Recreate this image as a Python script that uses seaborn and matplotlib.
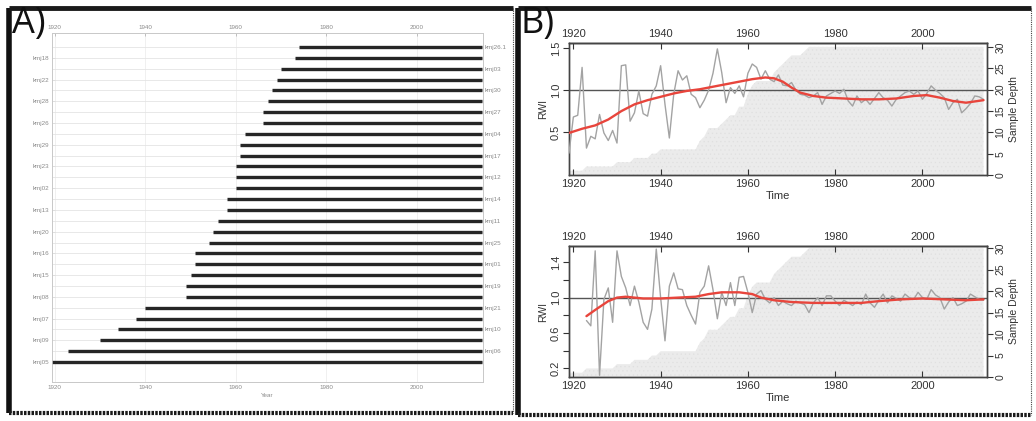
import numpy as np
import pandas as pd
import matplotlib
matplotlib.use("Agg")
import matplotlib.pyplot as plt
from matplotlib.lines import Line2D
import seaborn as sns

# Panel A: series names (top to bottom) and first year of each
series_names = ["kmj26.1", "kmj18", "kmj03", "kmj22", "kmj30", "kmj28", "kmj27", "kmj26",
                "kmj04", "kmj29", "kmj17", "kmj23", "kmj12", "kmj02", "kmj14", "kmj13",
                "kmj11", "kmj20", "kmj25", "kmj16", "kmj01", "kmj15", "kmj19", "kmj08",
                "kmj21", "kmj07", "kmj10", "kmj09", "kmj06", "kmj05"]
start_years = [1974, 1973, 1970, 1969, 1968, 1967, 1966, 1966, 1962, 1961, 1961, 1960,
               1960, 1960, 1958, 1958, 1956, 1955, 1954, 1951, 1951, 1950, 1949, 1949,
               1940, 1938, 1934, 1930, 1923, 1919]
end_year = 2014

# Panel B top: chronology 1
years_top = list(range(1919, 2015))
rwi_top = [0.25, 0.68, 0.70, 1.27, 0.31, 0.45, 0.42, 0.71, 0.49, 0.40,
           0.52, 0.37, 1.29, 1.30, 0.63, 0.73, 0.99, 0.72, 0.69, 0.95,
           1.05, 1.29, 0.83, 0.43, 0.95, 1.23, 1.12, 1.17, 0.95, 0.91,
           0.79, 0.88, 1.00, 1.20, 1.49, 1.21, 0.85, 1.03, 0.96, 1.05,
           0.92, 1.20, 1.31, 1.27, 1.13, 1.23, 1.13, 1.10, 1.18, 1.06,
           1.05, 1.09, 1.00, 0.95, 0.94, 0.91, 0.93, 0.97, 0.83, 0.93,
           0.96, 0.99, 0.96, 1.01, 0.87, 0.81, 0.93, 0.85, 0.89, 0.83,
           0.90, 0.97, 0.91, 0.88, 0.81, 0.89, 0.93, 0.97, 0.99, 0.95,
           0.99, 0.89, 0.96, 1.05, 1.00, 0.96, 0.91, 0.77, 0.85, 0.89,
           0.73, 0.78, 0.84, 0.93, 0.92, 0.89]
spline_years_top = [1919, 1922, 1925, 1928, 1931, 1934, 1937, 1940, 1943, 1946, 1949,
                    1952, 1955, 1958, 1961, 1964, 1966, 1968, 1970, 1972, 1975, 1978,
                    1982, 1986, 1990, 1994, 1998, 2001, 2004, 2007, 2010, 2014]
spline_top = [0.49, 0.54, 0.58, 0.65, 0.75, 0.83, 0.88, 0.92, 0.96, 0.99, 1.01,
              1.04, 1.07, 1.10, 1.13, 1.15, 1.14, 1.10, 1.03, 0.97, 0.93, 0.91,
              0.90, 0.89, 0.89, 0.90, 0.93, 0.94, 0.91, 0.87, 0.85, 0.88]

# Panel B bottom: chronology 2
years_bot = list(range(1923, 2015))
rwi_bot = [0.74, 0.68, 1.53, 0.12, 0.98, 1.11, 0.72, 1.53, 1.24, 1.11,
           0.91, 1.13, 0.95, 0.72, 0.64, 0.87, 1.55, 1.00, 0.51, 1.13,
           1.28, 1.10, 1.09, 0.91, 0.80, 0.70, 1.06, 1.13, 1.36, 1.09,
           0.76, 1.06, 0.91, 1.17, 0.91, 1.23, 1.24, 1.06, 0.83, 1.04,
           1.08, 0.98, 0.94, 1.00, 0.91, 0.96, 0.93, 0.91, 0.96, 0.94,
           0.92, 0.83, 0.94, 1.00, 0.91, 1.02, 1.02, 0.96, 0.91, 0.97,
           0.94, 0.91, 0.95, 0.92, 1.04, 0.94, 0.89, 0.97, 1.04, 0.94,
           1.02, 0.99, 0.96, 1.04, 1.00, 0.98, 1.06, 1.00, 0.98, 1.09,
           1.03, 1.00, 0.87, 0.95, 1.00, 0.91, 0.93, 0.96, 1.04, 1.01,
           0.98, 0.97]
spline_years_bot = [1923, 1925, 1928, 1930, 1932, 1936, 1940, 1944, 1948, 1951, 1954,
                    1958, 1961, 1963, 1966, 1970, 1975, 1980, 1986, 1990, 1995, 2000,
                    2005, 2010, 2014]
spline_bot = [0.79, 0.86, 0.96, 1.00, 1.01, 0.99, 0.99, 1.00, 1.01, 1.04, 1.06,
              1.06, 1.04, 1.00, 0.97, 0.95, 0.94, 0.94, 0.94, 0.96, 0.98, 0.99,
              0.98, 0.97, 0.98]

# sample depth = number of series present each year
depth_years = np.arange(1919, end_year + 1)
depth = np.array([sum(s <= y for s in start_years) for y in depth_years])

sns.set_theme(style="white")
plt.rcParams["font.family"] = ["Liberation Sans", "DejaVu Sans"]
plt.rcParams["hatch.linewidth"] = 0.4

W, H = 1036, 421
fig = plt.figure(figsize=(W / 100, H / 100), dpi=100)


def box(l, t, r, b):
    return [l / W, 1 - b / H, (r - l) / W, (b - t) / H]


def px_line(x0, y0, x1, y1, **kw):
    fig.add_artist(Line2D([x0 / W, x1 / W], [1 - y0 / H, 1 - y1 / H],
                          transform=fig.transFigure, **kw))


# ---------------- Panel A: segment plot ----------------
axA = fig.add_axes(box(52, 33, 483, 382))
rows = np.arange(len(series_names))
for r in rows:
    axA.axhline(r, color="#e4e4e4", lw=0.6, zorder=1)
axA.hlines(rows, start_years, end_year + 0.3, color="#262626", lw=2.4, zorder=3)
axA.set_xlim(1919.4, 2014.6)
axA.set_ylim(len(series_names) - 1 + 1.84, -1.29)
xt = [1920, 1940, 1960, 1980, 2000]
axA.set_xticks(xt)
axA.set_xticklabels([str(v) for v in xt])
for v in xt:
    axA.axvline(v, color="#eeeeee", lw=0.6, zorder=0)
axA.set_yticks(rows[1::2])
axA.set_yticklabels(series_names[1::2])
axA.tick_params(axis="both", labelsize=4.5, labelcolor="#8a8a8a", length=2,
                width=0.5, color="#aaaaaa", direction="in", pad=2,
                top=True, labeltop=True, left=False)
axA.set_xlabel("Year", fontsize=4.5, color="#8a8a8a", labelpad=2)
axRA = axA.twinx()
axRA.set_ylim(axA.get_ylim())
axRA.set_yticks(rows[0::2])
axRA.set_yticklabels(series_names[0::2])
axRA.tick_params(axis="y", labelsize=4.5, labelcolor="#8a8a8a", length=0, pad=1)
for a in (axA, axRA):
    for s in a.spines.values():
        s.set_color("#c8c8c8")
        s.set_linewidth(0.6)


# ---------------- Panel B: chronology plots ----------------
def chron_panel(rect, yrs, rwi, sp_yrs, sp, ylim, dlim, yt, ytl):
    ax = fig.add_axes(rect)
    ax2 = ax.twinx()
    ax2.fill_between(depth_years, depth, 0, facecolor="#ebebeb", edgecolor="#e0e0e0",
                     hatch="....", lw=0)
    ax2.set_ylim(*dlim)
    ax2.set_yticks([0, 5, 10, 15, 20, 25, 30])
    ax2.set_ylabel("Sample Depth", fontsize=7.5, color="#333333", labelpad=3)
    ax2.tick_params(axis="y", labelsize=7.5, length=4, width=0.8, color="#333333",
                    labelcolor="#333333", labelrotation=90, pad=2, right=True,
                    direction="out")
    for lab in ax2.get_yticklabels():
        lab.set_verticalalignment("center")
    ax.set_zorder(ax2.get_zorder() + 1)
    ax.patch.set_visible(False)

    ax.axhline(1.0, color="#555555", lw=1.0, zorder=2)
    sns.lineplot(x=yrs, y=rwi, ax=ax, color="#a3a3a3", lw=1.0, zorder=3)
    sns.lineplot(x=sp_yrs, y=sp, ax=ax, color="#e8453c", lw=1.7, zorder=4)
    ax.set_xlim(1919.0, 2014.8)
    ax.set_ylim(*ylim)
    ax.set_yticks(yt)
    ax.set_yticklabels(ytl)
    ax.set_xticks(xt)
    ax.set_xlabel("Time", fontsize=8, color="#333333", labelpad=1)
    ax.set_ylabel("RWI", fontsize=7.5, color="#333333", labelpad=2)
    ax.tick_params(axis="x", labelsize=8, length=4, width=0.8, color="#333333",
                   labelcolor="#333333", bottom=True, direction="in", pad=3)
    ax.tick_params(axis="y", labelsize=8, length=4, width=0.8, color="#333333",
                   labelcolor="#333333", left=True, direction="out", pad=2,
                   labelrotation=90)
    for lab in ax.get_yticklabels():
        lab.set_verticalalignment("center")
    top = ax.secondary_xaxis("top")
    top.set_xticks(xt)
    top.tick_params(labelsize=8, length=4, width=0.8, direction="in",
                    color="#333333", labelcolor="#333333", pad=3)
    for a in (ax, ax2, top):
        for s in a.spines.values():
            s.set_color("#444444")
            s.set_linewidth(1.0)
    return ax


chron_panel(box(569, 43, 987, 175), years_top, rwi_top, spline_years_top, spline_top,
            (-0.01, 1.56), (0, 30.9), [0.5, 1.0, 1.5], ["0.5", "1.0", "1.5"])
chron_panel(box(569, 246, 987, 377), years_bot, rwi_bot, spline_years_bot, spline_bot,
            (0.10, 1.585), (0, 30.5), [0.2, 0.4, 0.6, 0.8, 1.0, 1.2, 1.4],
            ["0.2", "", "0.6", "", "1.0", "", "1.4"])

# ---------------- panel frames and letters ----------------
for (l, t, r, b) in [(9, 8, 513, 413), (518, 8, 1031, 415)]:
    px_line(l, t, l, b, color="#111111", lw=4.0, solid_capstyle="butt")
    px_line(l, t, r, t, color="#1a1a1a", lw=3.5, solid_capstyle="butt")
    px_line(l, b, r, b, color="#1a1a1a", lw=3.0, linestyle=(0, (0.6, 0.3)))
    px_line(r, t, r, b, color="#444444", lw=0.8, linestyle=(0, (1.0, 1.0)))

fig.text(12 / W, 1 - 24 / H, "A)", fontsize=26, family=["Open Sans", "DejaVu Sans"],
         va="center", ha="left", color="#111111")
fig.text(521 / W, 1 - 24 / H, "B)", fontsize=26, family=["Open Sans", "DejaVu Sans"],
         va="center", ha="left", color="#111111")

fig.savefig("out.png", dpi=100)
